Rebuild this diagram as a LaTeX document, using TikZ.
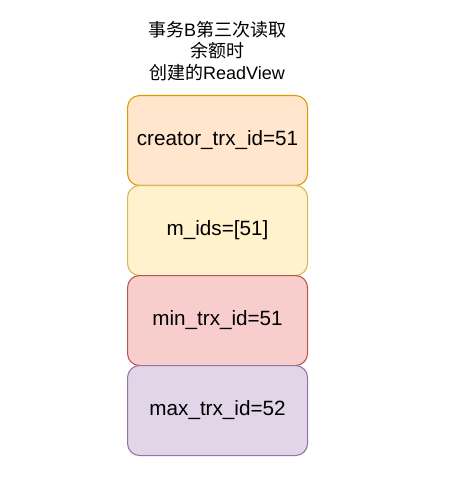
\documentclass[tikz,border=0pt]{standalone}
\usepackage{fontspec}
\setmainfont{Liberation Sans}
\newfontfamily\cjk{Noto Sans CJK SC}
\begin{document}
\begin{tikzpicture}[x=0.75pt,y=-0.75pt,
  field/.style={draw, line width=0.8pt, rounded corners=9pt, minimum width=180*0.75pt, minimum height=90*0.75pt, inner sep=0pt, font=\fontsize{15.5pt}{18pt}\selectfont, anchor=north west},
  title/.style={align=center, font=\fontsize{13.5pt}{16pt}\selectfont}]
\useasboundingbox (0,0) rectangle (460,495);
\definecolor{oF}{HTML}{FFE6CC}\definecolor{oD}{HTML}{D79B00}
\definecolor{yF}{HTML}{FFF2CC}\definecolor{yD}{HTML}{D6B656}
\definecolor{rF}{HTML}{F8CECC}\definecolor{rD}{HTML}{B85450}
\definecolor{pF}{HTML}{E1D5E7}\definecolor{pD}{HTML}{9673A6}
\node[title] (t) at (217,51) {{\cjk 事务}B{\cjk 第三次读取}\\{\cjk 余额时}\\{\cjk 创建的}ReadView};
\node[field, fill=oF, draw=oD] (a) at (127,95) {creator\_trx\_id=51};
\node[field, fill=yF, draw=yD] (b) at (127,185) {m\_ids=[51]};
\node[field, fill=rF, draw=rD] (c) at (127,275) {min\_trx\_id=51};
\node[field, fill=pF, draw=pD] (d) at (127,365) {max\_trx\_id=52};
\end{tikzpicture}
\end{document}
